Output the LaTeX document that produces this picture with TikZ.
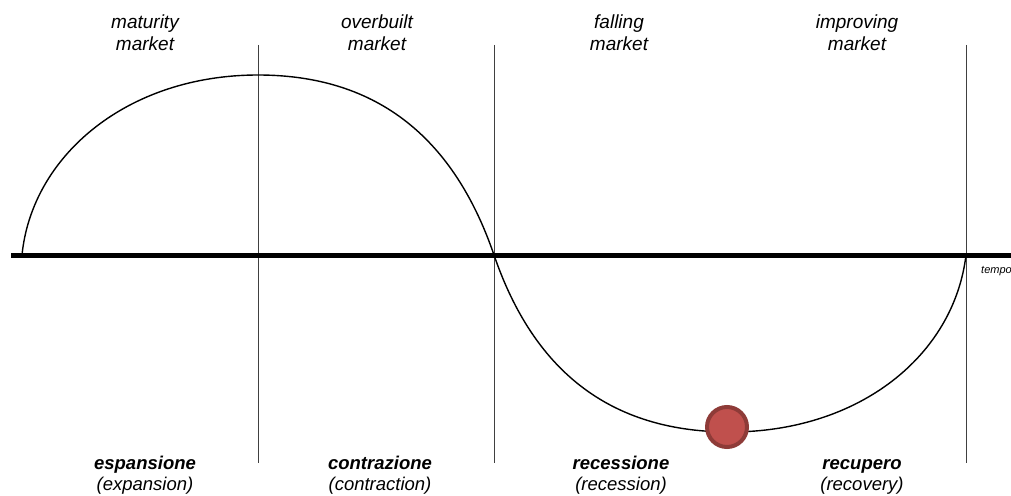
\documentclass[tikz,border=0pt]{standalone}
\usepackage{fontspec}
\setmainfont{Liberation Sans}
\definecolor{dotfill}{HTML}{C0504D}
\definecolor{dotline}{HTML}{8E3B38}
\begin{document}
\begin{tikzpicture}[x=1pt,y=-1pt,
  lbl/.style={anchor=base,inner sep=0pt,font=\fontsize{19}{22}\selectfont\itshape},
  blbl/.style={anchor=base,inner sep=0pt,font=\fontsize{18.5}{22}\selectfont\bfseries\itshape},
  sublbl/.style={anchor=base,inner sep=0pt,font=\fontsize{18.5}{22}\selectfont\itshape},
  divider/.style={draw=black!75,line width=0.9pt},
  axisline/.style={line width=5pt},
  curveline/.style={line width=1.4pt},
  marker/.style={circle,draw=dotline,fill=dotfill,line width=4pt,minimum size=40pt,inner sep=0pt}]
\useasboundingbox (0,0) rectangle (1011,495);
\fill[white] (0,0) rectangle (1011,495);
% dividers
\coordinate (d1t) at (258,45); \coordinate (d1b) at (258,463);
\coordinate (d2t) at (494,45); \coordinate (d2b) at (494,463);
\coordinate (d3t) at (966,45); \coordinate (d3b) at (966,463);
\draw[divider] (d1t) -- (d1b);
\draw[divider] (d2t) -- (d2b);
\draw[divider] (d3t) -- (d3b);
% curve
\coordinate (c0) at (22,255);
\coordinate (c1) at (258,75);
\coordinate (c2) at (494,255);
\coordinate (c3) at (730,432);
\coordinate (c4) at (966,255);
\draw[curveline] (c0) .. controls (32,155) and (128,75) .. (c1)
  .. controls (388,75) and (458,150) .. (c2)
  .. controls (530,360) and (600,432) .. (c3)
  .. controls (860,432) and (954,355) .. (c4);
% axis
\coordinate (axL) at (11,255);
\coordinate (axR) at (1011,255);
\draw[axisline] (axL) -- (axR);
\node[anchor=base west,inner sep=0pt,font=\fontsize{11}{12}\selectfont\itshape] (tempo) at (981,273) {tempo};
% marker
\node[marker] (dot) at (727,427) {};
% top labels
\node[lbl] (t1a) at (145,29) {maturity};
\node[lbl] (t1b) at (145,51) {market};
\node[lbl] (t2a) at (377,29) {overbuilt};
\node[lbl] (t2b) at (377,51) {market};
\node[lbl] (t3a) at (619,29) {falling};
\node[lbl] (t3b) at (619,51) {market};
\node[lbl] (t4a) at (857,29) {improving};
\node[lbl] (t4b) at (857,51) {market};
% bottom labels
\node[blbl] (b1a) at (145,469) {espansione};
\node[sublbl] (b1b) at (145,490) {(expansion)};
\node[blbl] (b2a) at (380,469) {contrazione};
\node[sublbl] (b2b) at (380,490) {(contraction)};
\node[blbl] (b3a) at (621,469) {recessione};
\node[sublbl] (b3b) at (621,490) {(recession)};
\node[blbl] (b4a) at (862,469) {recupero};
\node[sublbl] (b4b) at (862,490) {(recovery)};
\end{tikzpicture}
\end{document}
